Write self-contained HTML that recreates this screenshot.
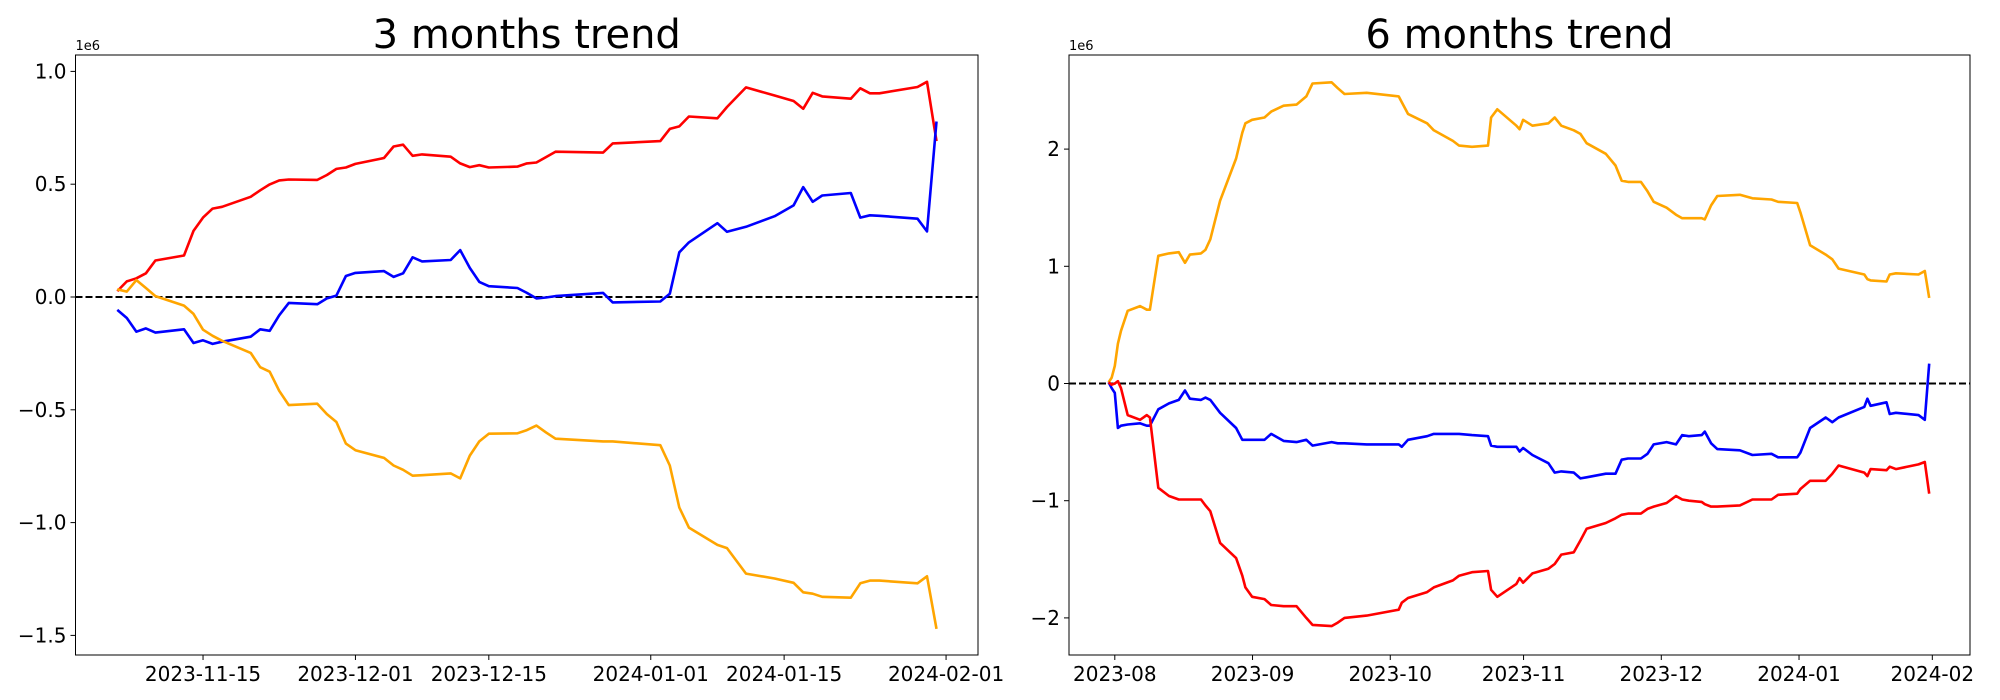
<!DOCTYPE html>
<html><head><meta charset="utf-8"><style>
body{margin:0;background:#fff;}
svg{display:block;font-family:"DejaVu Sans","Liberation Sans",sans-serif;}
</style></head><body>
<svg id="chart" width="2000" height="700" viewBox="0 0 2000 700" xmlns="http://www.w3.org/2000/svg"></svg>
<script>
// ---- 3 months chart data (days since 2023-11-06, values in 1e6) ----
const leftDays = [0,1,2,3,4,7,8,9,10,11,14,15,16,17,18,21,22,23,24,25,28,29,30,31,32,35,36,37,38,39,42,43,44,45,46,51,52,57,58,59,60,63,64,66,69,71,72,73,74,77,78,79,80,84,85,86];
const leftRed = [0.026,0.069,0.083,0.105,0.162,0.184,0.293,0.352,0.392,0.4,0.444,0.473,0.499,0.517,0.521,0.519,0.541,0.568,0.574,0.59,0.616,0.667,0.675,0.626,0.632,0.622,0.592,0.576,0.584,0.574,0.578,0.592,0.596,0.62,0.644,0.64,0.681,0.691,0.745,0.756,0.8,0.792,0.842,0.929,0.893,0.869,0.834,0.905,0.889,0.879,0.925,0.903,0.903,0.931,0.954,0.691];
const leftBlue = [-0.057,-0.093,-0.154,-0.139,-0.158,-0.143,-0.204,-0.192,-0.208,-0.198,-0.176,-0.143,-0.15,-0.081,-0.026,-0.032,-0.006,0.006,0.093,0.107,0.115,0.089,0.105,0.176,0.158,0.164,0.208,0.129,0.067,0.048,0.04,0.018,-0.006,-0.002,0.004,0.018,-0.024,-0.02,0.014,0.198,0.242,0.327,0.289,0.311,0.358,0.406,0.487,0.422,0.45,0.461,0.352,0.362,0.36,0.347,0.291,0.778];
const leftOrange = [0.034,0.024,0.075,0.04,0.004,-0.038,-0.075,-0.145,-0.172,-0.194,-0.248,-0.311,-0.331,-0.416,-0.479,-0.473,-0.519,-0.554,-0.65,-0.679,-0.713,-0.747,-0.766,-0.792,-0.79,-0.782,-0.804,-0.703,-0.64,-0.606,-0.604,-0.59,-0.57,-0.6,-0.628,-0.64,-0.64,-0.657,-0.747,-0.933,-1.022,-1.099,-1.113,-1.226,-1.248,-1.267,-1.309,-1.315,-1.329,-1.333,-1.269,-1.257,-1.257,-1.269,-1.238,-1.471];
const leftXTickDays = [9,25,39,56,70,87];
const leftXTickLabels = ["2023-11-15","2023-12-01","2023-12-15","2024-01-01","2024-01-15","2024-02-01"];
const leftYTicks = [1.0,0.5,0.0,-0.5,-1.0,-1.5];
const leftYTickLabels = ["1.0","0.5","0.0","\u22120.5","\u22121.0","\u22121.5"];

// ---- 6 months chart data (days since 2023-08-01, values in 1e6) ----
const rightDays = [-1.4,-0.7,0,0.7,1.4,2.9,5.7,7.2,7.9,9.8,12.2,14.4,15.8,16.9,19.4,20.4,21.5,23.7,27.3,28.7,29.4,30.9,33.7,35.2,38.0,40.9,43.1,44.5,48.8,50.2,51.7,56.7,63.9,64.6,66.0,70.3,71.8,76.1,77.5,80.4,84.0,84.7,86.1,90.4,91.1,91.9,94.0,97.6,99.0,100.5,103.3,104.8,106.2,110.5,112.7,114.1,115.5,118.4,119.9,121.3,124.2,126.3,127.7,129.2,132.1,132.8,134.2,135.6,140.7,143.5,147.8,149.3,153.6,154.3,156.5,160.0,161.5,162.9,168.7,169.4,170.1,173.7,174.4,175.8,180.9,182.3,183.3];
const rightOrange = [0.01,0.05,0.15,0.34,0.45,0.62,0.66,0.63,0.63,1.09,1.11,1.12,1.03,1.10,1.11,1.14,1.23,1.56,1.92,2.14,2.22,2.25,2.27,2.32,2.37,2.38,2.45,2.56,2.57,2.52,2.47,2.48,2.45,2.40,2.30,2.22,2.16,2.07,2.03,2.02,2.03,2.27,2.34,2.20,2.17,2.25,2.20,2.22,2.27,2.20,2.16,2.13,2.05,1.96,1.86,1.73,1.72,1.72,1.64,1.55,1.50,1.44,1.41,1.41,1.41,1.40,1.52,1.60,1.61,1.58,1.57,1.55,1.54,1.46,1.18,1.10,1.06,0.98,0.93,0.89,0.88,0.87,0.93,0.94,0.93,0.96,0.73];
const rightBlue = [0.01,-0.04,-0.08,-0.38,-0.36,-0.35,-0.34,-0.36,-0.36,-0.22,-0.17,-0.14,-0.06,-0.13,-0.14,-0.12,-0.14,-0.25,-0.38,-0.48,-0.48,-0.48,-0.48,-0.43,-0.49,-0.50,-0.48,-0.53,-0.50,-0.51,-0.51,-0.52,-0.52,-0.54,-0.48,-0.45,-0.43,-0.43,-0.43,-0.44,-0.45,-0.53,-0.54,-0.54,-0.58,-0.55,-0.61,-0.68,-0.76,-0.75,-0.76,-0.81,-0.80,-0.77,-0.77,-0.65,-0.64,-0.64,-0.60,-0.52,-0.50,-0.52,-0.44,-0.45,-0.44,-0.41,-0.51,-0.56,-0.57,-0.61,-0.60,-0.63,-0.63,-0.59,-0.38,-0.29,-0.33,-0.29,-0.20,-0.13,-0.19,-0.16,-0.26,-0.25,-0.27,-0.31,0.17];
const rightRed = [0.01,-0.01,0,0.02,-0.04,-0.27,-0.31,-0.27,-0.29,-0.89,-0.96,-0.99,-0.99,-0.99,-0.99,-1.04,-1.09,-1.36,-1.49,-1.64,-1.74,-1.82,-1.84,-1.89,-1.90,-1.90,-2.00,-2.06,-2.07,-2.04,-2.00,-1.98,-1.93,-1.87,-1.83,-1.78,-1.74,-1.68,-1.64,-1.61,-1.60,-1.76,-1.82,-1.71,-1.66,-1.70,-1.62,-1.58,-1.54,-1.46,-1.44,-1.34,-1.24,-1.19,-1.15,-1.12,-1.11,-1.11,-1.07,-1.05,-1.02,-0.96,-0.99,-1.00,-1.01,-1.03,-1.05,-1.05,-1.04,-0.99,-0.99,-0.95,-0.94,-0.90,-0.83,-0.83,-0.77,-0.70,-0.76,-0.79,-0.73,-0.74,-0.71,-0.73,-0.69,-0.67,-0.94];
const rightXTickDays = [0,31,62,92,123,154,184];
const rightXTickLabels = ["2023-08","2023-09","2023-10","2023-11","2023-12","2024-01","2024-02"];
const rightYTicks = [2,1,0,-1,-2];
const rightYTickLabels = ["2","1","0","\u22121","\u22122"];

const NS = "http://www.w3.org/2000/svg";
const svg = document.getElementById('chart');
function mk(tag, attrs, parent, text){
  const e = document.createElementNS(NS, tag);
  for (const k in attrs) e.setAttribute(k, attrs[k]);
  if (text !== undefined) e.textContent = text;
  (parent||svg).appendChild(e);
  return e;
}

function drawPanel(cfg){
  const g = mk('g', {});
  
  
  const xS = d => cfg.x0 + d * cfg.pxPerDay;
  const yS = v => cfg.yZero - v * cfg.pxPerUnit;

  const t = mk('text', {x:(cfg.left+cfg.right)/2, y:48, 'text-anchor':'middle', 'font-size':40, fill:'#000'}, g, cfg.title);
  
  

  const off = mk('text', {x:cfg.left, y:50, 'font-size':13, fill:'#000'}, g, '1e6');
  
  

  cfg.yTicks.forEach((v, i) => {
    const y = yS(v);
    mk('line', {x1:cfg.left-5, x2:cfg.left, y1:y, y2:y, stroke:'#000', 'stroke-width':1}, g);
    const lb = mk('text', {x:cfg.left-9, y:y+7, 'text-anchor':'end', 'font-size':20, fill:'#000'}, g, cfg.yLabels[i]);
    
    
  });
  cfg.xTicks.forEach((d, i) => {
    const x = xS(d);
    mk('line', {x1:x, x2:x, y1:cfg.bottom, y2:cfg.bottom+5, stroke:'#000', 'stroke-width':1}, g);
    const lb = mk('text', {x:x, y:681, 'text-anchor':'middle', 'font-size':20, fill:'#000'}, g, cfg.xLabels[i]);
    
    
  });

  const zl = mk('line', {x1:cfg.left, x2:cfg.right, y1:yS(0), y2:yS(0), stroke:'#000', 'stroke-width':2, 'stroke-dasharray':'7,3'}, g);
  
  

  cfg.series.forEach(s => {
    const pts = cfg.days.map((d, i) => xS(d).toFixed(1) + ',' + yS(s.values[i]).toFixed(1)).join(' ');
    const pl = mk('polyline', {points:pts, fill:'none', stroke:s.color, 'stroke-width':2.6, 'stroke-linejoin':'round'}, g);
    
    
  });

  const fr = mk('rect', {x:cfg.left, y:cfg.top, width:cfg.right-cfg.left, height:cfg.bottom-cfg.top, fill:'none', stroke:'#000', 'stroke-width':1}, g);
  
  
}

drawPanel({name:'three-month-trend-chart', title:'3 months trend', left:75.5, right:978, top:55, bottom:655,
  x0:117.3, pxPerDay:9.526, yZero:297, pxPerUnit:225.6,
  days:leftDays, xTicks:leftXTickDays, xLabels:leftXTickLabels, yTicks:leftYTicks, yLabels:leftYTickLabels,
  series:[{name:'red-series-line', color:'red', values:leftRed},
          {name:'blue-series-line', color:'blue', values:leftBlue},
          {name:'orange-series-line', color:'orange', values:leftOrange}]});

drawPanel({name:'six-month-trend-chart', title:'6 months trend', left:1069, right:1970, top:55, bottom:655,
  x0:1114.8, pxPerDay:4.443, yZero:383.5, pxPerUnit:117.2,
  days:rightDays, xTicks:rightXTickDays, xLabels:rightXTickLabels, yTicks:rightYTicks, yLabels:rightYTickLabels,
  series:[{name:'orange-series-line', color:'orange', values:rightOrange},
          {name:'blue-series-line', color:'blue', values:rightBlue},
          {name:'red-series-line', color:'red', values:rightRed}]});
</script>
</body></html>
